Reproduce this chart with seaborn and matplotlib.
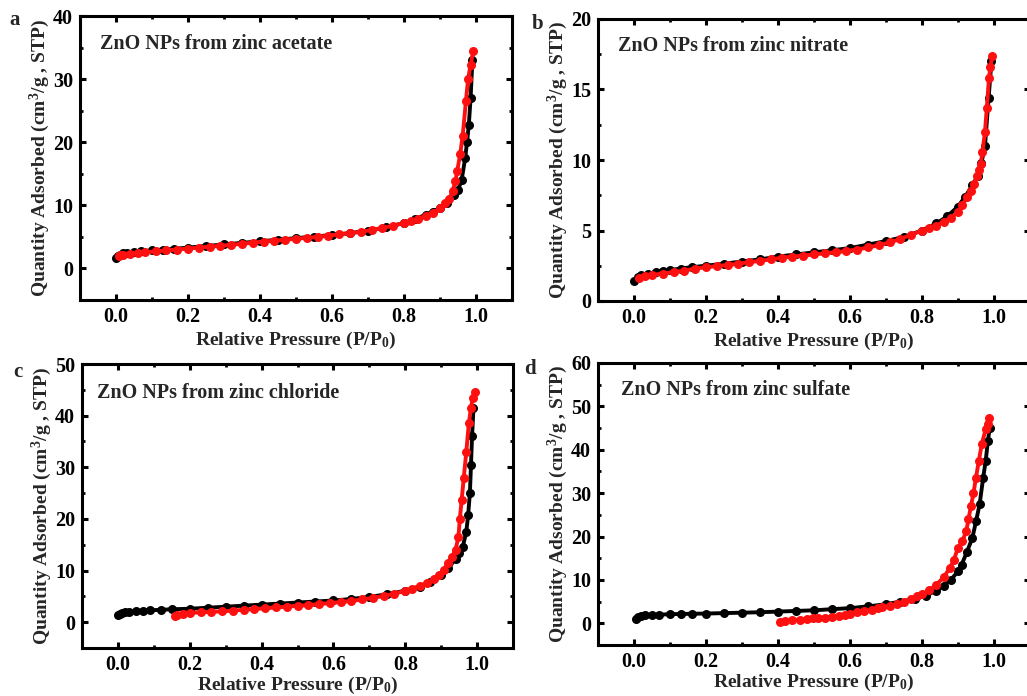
import numpy as np
import pandas as pd
import matplotlib
matplotlib.use("Agg")
import matplotlib.pyplot as plt
import seaborn as sns
from matplotlib.ticker import MultipleLocator

# ---------------- data ----------------
titles = ["ZnO NPs from zinc acetate", "ZnO NPs from zinc nitrate",
          "ZnO NPs from zinc chloride", "ZnO NPs from zinc sulfate"]
letters = ["a", "b", "c", "d"]

# (a) acetate
a_ads_x = [0.000, 0.005, 0.01, 0.02, 0.03, 0.05, 0.07, 0.10, 0.13, 0.16, 0.20, 0.25, 0.30, 0.35,
           0.40, 0.45, 0.50, 0.55, 0.60, 0.65, 0.70, 0.75, 0.80, 0.83, 0.86, 0.88, 0.90, 0.92,
           0.94, 0.95, 0.96, 0.97, 0.975, 0.98, 0.985, 0.99]
a_ads_y = [1.6, 2.0, 2.2, 2.4, 2.5, 2.6, 2.7, 2.85, 3.0, 3.1, 3.3, 3.55, 3.8, 4.05,
           4.3, 4.55, 4.8, 5.05, 5.3, 5.6, 6.0, 6.5, 7.2, 7.8, 8.5, 9.0, 9.6, 10.4,
           11.6, 12.4, 14.0, 17.5, 20.0, 22.7, 27.0, 33.0]
a_des_x = [0.993, 0.985, 0.978, 0.972, 0.963, 0.956, 0.948, 0.943, 0.935, 0.926, 0.915, 0.90,
           0.88, 0.86, 0.84, 0.82, 0.80, 0.77, 0.74, 0.71, 0.68, 0.65, 0.62, 0.59, 0.56, 0.53,
           0.50, 0.47, 0.44, 0.41, 0.38, 0.35, 0.32, 0.29, 0.26, 0.23, 0.20, 0.17, 0.14, 0.11,
           0.08, 0.06, 0.04, 0.02, 0.01, 0.007]
a_des_y = [34.5, 32.3, 30.0, 26.5, 21.0, 18.1, 15.5, 13.8, 12.3, 11.0, 10.3, 9.5,
           8.8, 8.3, 7.9, 7.5, 7.2, 6.8, 6.4, 6.1, 5.8, 5.6, 5.4, 5.2, 5.0, 4.85,
           4.7, 4.55, 4.4, 4.25, 4.1, 3.9, 3.75, 3.6, 3.45, 3.3, 3.15, 3.0, 2.85, 2.7,
           2.55, 2.45, 2.35, 2.2, 2.1, 2.0]

# (b) nitrate
b_ads_x = [0.0, 0.01, 0.02, 0.04, 0.06, 0.08, 0.10, 0.13, 0.16, 0.20, 0.25, 0.30, 0.35, 0.40,
           0.45, 0.50, 0.55, 0.60, 0.65, 0.70, 0.75, 0.80, 0.84, 0.87, 0.90, 0.92, 0.94, 0.955,
           0.965, 0.975, 0.985, 0.993]
b_ads_y = [1.43, 1.7, 1.85, 1.95, 2.05, 2.15, 2.2, 2.3, 2.4, 2.5, 2.65, 2.8, 2.95, 3.15,
           3.3, 3.45, 3.6, 3.75, 4.0, 4.25, 4.55, 5.0, 5.5, 6.0, 6.7, 7.4, 8.2, 8.9,
           9.8, 11.0, 14.4, 17.0]
b_des_x = [0.995, 0.99, 0.986, 0.98, 0.975, 0.968, 0.963, 0.958, 0.954, 0.945, 0.935, 0.926,
           0.912, 0.90, 0.88, 0.86, 0.84, 0.82, 0.80, 0.77, 0.74, 0.71, 0.68, 0.65, 0.62, 0.59,
           0.56, 0.53, 0.50, 0.47, 0.44, 0.41, 0.38, 0.35, 0.32, 0.29, 0.26, 0.23, 0.20, 0.17,
           0.14, 0.11, 0.08, 0.05, 0.03, 0.013]
b_des_y = [17.4, 16.6, 15.8, 13.7, 12.0, 10.6, 9.7, 9.3, 8.9, 8.3, 7.8, 7.4,
           6.8, 6.3, 5.9, 5.6, 5.35, 5.15, 5.0, 4.7, 4.4, 4.15, 3.95, 3.8, 3.65, 3.55,
           3.45, 3.38, 3.3, 3.22, 3.15, 3.07, 2.95, 2.85, 2.75, 2.65, 2.55, 2.47, 2.4, 2.3,
           2.15, 2.05, 1.95, 1.85, 1.75, 1.66]

# (c) chloride
c_ads_x = [0.0, 0.005, 0.01, 0.02, 0.03, 0.05, 0.07, 0.09, 0.12, 0.15, 0.20, 0.25, 0.30, 0.35,
           0.40, 0.45, 0.50, 0.55, 0.60, 0.65, 0.70, 0.75, 0.80, 0.84, 0.87, 0.90, 0.92, 0.94,
           0.95, 0.96, 0.97, 0.975, 0.98, 0.983, 0.986, 0.99]
c_ads_y = [1.4, 1.6, 1.8, 1.9, 2.0, 2.15, 2.25, 2.3, 2.4, 2.5, 2.6, 2.8, 3.0, 3.2,
           3.4, 3.6, 3.8, 4.0, 4.2, 4.5, 4.9, 5.4, 6.1, 6.9, 7.8, 9.1, 10.4, 12.3,
           13.4, 14.6, 17.5, 20.7, 25.0, 30.4, 36.0, 41.5]
c_des_x = [0.993, 0.988, 0.983, 0.977, 0.97, 0.963, 0.957, 0.952, 0.948, 0.94, 0.93, 0.92,
           0.907, 0.895, 0.88, 0.86, 0.84, 0.82, 0.80, 0.77, 0.74, 0.71, 0.68, 0.65, 0.62,
           0.59, 0.56, 0.53, 0.50, 0.47, 0.44, 0.41, 0.38, 0.35, 0.32, 0.29, 0.26, 0.23,
           0.20, 0.18, 0.165, 0.16]
c_des_y = [44.5, 43.5, 41.5, 38.5, 33.0, 28.0, 23.6, 20.0, 16.5, 14.0, 12.6, 11.5,
           10.2, 9.1, 8.3, 7.5, 7.0, 6.5, 6.1, 5.5, 5.1, 4.7, 4.4, 4.1, 3.9,
           3.7, 3.5, 3.3, 3.15, 3.0, 2.85, 2.7, 2.55, 2.4, 2.25, 2.1, 2.0, 1.9,
           1.8, 1.6, 1.4, 1.2]

# (d) sulfate
d_ads_x = [0.005, 0.01, 0.02, 0.03, 0.05, 0.07, 0.10, 0.13, 0.16, 0.20, 0.25, 0.30, 0.35, 0.40,
           0.45, 0.50, 0.55, 0.60, 0.65, 0.70, 0.74, 0.78, 0.81, 0.84, 0.86, 0.88, 0.90, 0.91,
           0.925, 0.94, 0.95, 0.96, 0.97, 0.977, 0.983, 0.988]
d_ads_y = [1.0, 1.4, 1.7, 1.8, 1.9, 2.0, 2.1, 2.15, 2.2, 2.25, 2.35, 2.45, 2.55, 2.7,
           2.85, 3.0, 3.25, 3.5, 3.9, 4.4, 5.0, 5.6, 6.4, 7.5, 8.6, 10.0, 12.0, 13.5,
           16.5, 19.7, 23.5, 27.4, 33.6, 37.5, 42.0, 45.0]
d_des_x = [0.987, 0.982, 0.977, 0.966, 0.958, 0.95, 0.943, 0.936, 0.929, 0.923, 0.912, 0.90,
           0.888, 0.877, 0.86, 0.84, 0.82, 0.80, 0.787, 0.77, 0.75, 0.73, 0.71, 0.69, 0.678,
           0.66, 0.64, 0.62, 0.60, 0.587, 0.57, 0.55, 0.53, 0.51, 0.496, 0.48, 0.46, 0.44,
           0.42, 0.406]
d_des_y = [47.3, 46.0, 44.8, 41.3, 37.5, 33.6, 30.0, 27.0, 24.0, 21.2, 19.0, 17.4,
           14.5, 12.7, 10.6, 8.9, 7.6, 6.7, 6.2, 5.5, 4.9, 4.4, 4.0, 3.7, 3.5,
           3.1, 2.8, 2.5, 2.2, 1.9, 1.7, 1.5, 1.3, 1.2, 1.2, 1.0, 0.85, 0.7,
           0.5, 0.4]

ads = [(a_ads_x, a_ads_y), (b_ads_x, b_ads_y), (c_ads_x, c_ads_y), (d_ads_x, d_ads_y)]
des = [(a_des_x, a_des_y), (b_des_x, b_des_y), (c_des_x, c_des_y), (d_des_x, d_des_y)]
ylims = [(-5, 40), (0, 20), (-5, 50), (-5, 60)]
ymajor = [10, 5, 10, 10]
yminor = [5, 2.5, 5, 5]
xticks = [0.0, 0.2, 0.4, 0.6, 0.8, 1.0]

# ---------------- style ----------------
sns.set_theme(style="ticks")
SERIF = "Liberation Serif"
plt.rcParams.update({
    "font.family": [SERIF, "DejaVu Serif"],
    "font.weight": "bold",
    "axes.labelweight": "bold",
    "mathtext.fontset": "custom",
    "mathtext.rm": SERIF + ":bold",
    "mathtext.it": SERIF + ":italic:bold",
    "mathtext.bf": SERIF + ":bold",
    "mathtext.default": "rm",
    "axes.linewidth": 2.2,
    "axes.edgecolor": "black",
    "xtick.direction": "in",
    "ytick.direction": "in",
})

W, H = 1027, 696
fig = plt.figure(figsize=(W / 100, H / 100), dpi=100)
fig.patch.set_facecolor("white")

# axes boxes in pixels: left, right, top, bottom
boxes = [(80, 512, 16, 300), (598, 1030, 19, 301), (82, 513, 364, 648), (598, 1030, 363, 645)]
title_pos = [(0.046, 0.90), (0.046, 0.905), (0.035, 0.898), (0.053, 0.905)]
letter_pos = [(15, 20), (538, 24), (18, 372), (530, 369)]
xlabel_pad = [2, 2, 0, 0]

for i in range(4):
    l, r, t, b = boxes[i]
    ax = fig.add_axes([l / W, 1 - b / H, (r - l) / W, (b - t) / H])
    ax.set_facecolor("white")
    df_a = pd.DataFrame({"x": ads[i][0], "y": ads[i][1]})
    df_d = pd.DataFrame({"x": des[i][0], "y": des[i][1]})
    sns.lineplot(data=df_a, x="x", y="y", sort=False, estimator=None, ax=ax,
                 color="black", linewidth=2.8, marker="o", markersize=6.5,
                 markeredgewidth=0)
    sns.lineplot(data=df_d, x="x", y="y", sort=False, estimator=None, ax=ax,
                 color="#ff1010", linewidth=2.8, marker="o", markersize=6.5,
                 markeredgewidth=0)
    ax.set_xlim(-0.1, 1.1)
    ax.set_xticks(xticks)
    ax.set_xticklabels([f"{v:.1f}" for v in xticks])
    ax.xaxis.set_minor_locator(MultipleLocator(0.1))
    ax.yaxis.set_major_locator(MultipleLocator(ymajor[i]))
    ax.yaxis.set_minor_locator(MultipleLocator(yminor[i]))
    ax.set_ylim(*ylims[i])
    ax.tick_params(which="both", direction="in", top=True, right=True, colors="black",
                   labelsize=14.5)
    ax.tick_params(which="major", length=4.5, width=2.2, pad=5)
    ax.tick_params(which="minor", length=2.5, width=2.0)
    for lab in ax.get_xticklabels() + ax.get_yticklabels():
        lab.set_fontweight("bold")
    for sp in ax.spines.values():
        sp.set_linewidth(2.2)
        sp.set_color("black")
    ax.set_xlabel("Relative Pressure (P/P$_0$)", fontsize=14, fontweight="bold",
                  labelpad=xlabel_pad[i])
    ax.set_ylabel("Quantity Adsorbed (cm$^3$/g , STP)", fontsize=14, fontweight="bold",
                  labelpad=1)
    ax.text(title_pos[i][0], title_pos[i][1], titles[i], transform=ax.transAxes,
            fontsize=14.5, fontweight="bold", ha="left", va="center")
    fig.text(letter_pos[i][0] / W, 1 - letter_pos[i][1] / H, letters[i], fontsize=15,
             fontweight="bold", ha="center", va="center")

fig.savefig("out.png", dpi=100, facecolor="white")
